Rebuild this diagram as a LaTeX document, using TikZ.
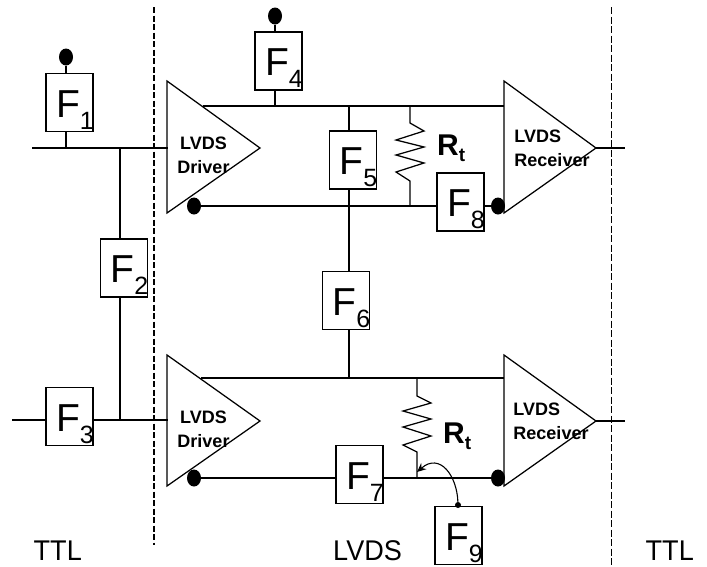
\documentclass[tikz,border=0pt]{standalone}
\usepackage{fontspec}
\setmainfont{Liberation Sans}
\usetikzlibrary{arrows.meta,shapes.geometric}

\newcommand{\fname}[1]{\makebox[0pt][l]{\hspace*{-13.5pt}\raisebox{-14.5pt}[0pt][0pt]{\fontsize{39}{39}\selectfont F\raisebox{-12pt}{\fontsize{25}{25}\selectfont #1}}}}
\newcommand{\rtname}{R\raisebox{-6pt}{\fontsize{19}{19}\selectfont t}}
\newcommand{\zonename}[1]{\scalebox{.95}[1]{#1}}

\tikzset{
    wire/.style={line width=1.25pt},
    fbox/.style={draw, line width=1.25pt, minimum width=47pt, minimum height=58pt, inner sep=0pt},
    blob/.style={ellipse, fill=black, minimum width=14pt, minimum height=17pt, inner sep=0pt},
    pindot/.style={circle, fill=black, minimum size=6pt, inner sep=0pt},
    amplabel/.style={font=\fontsize{18}{24}\selectfont\bfseries, inner sep=0pt},
    rlabel/.style={font=\fontsize{30}{30}\selectfont\bfseries, inner sep=0pt, anchor=base west},
    zonelabel/.style={font=\fontsize{28.5}{30}\selectfont, inner sep=0pt, anchor=base west},
}

\begin{document}
\begin{tikzpicture}[x=1pt, y=-1pt, line cap=butt, line join=miter]

    \useasboundingbox (0,0) rectangle (707,566);

    % Confini tra le zone
    \draw[line width=1.3pt, dash pattern=on 6pt off 2.5pt] (154,7) -- (154,545);
    \draw[line width=0.9pt, dash pattern=on 7pt off 2.5pt] (611,7) -- (611,565);

    % Amplificatori
    \draw[wire] (167,81) coordinate (drvA) -- (260,148) coordinate (drvAout) -- (167,213) -- cycle;
    \draw[wire] (167,355) coordinate (drvB) -- (260,421) coordinate (drvBout) -- (167,486) -- cycle;
    \draw[wire] (504,81) coordinate (rcvA) -- (596,148) coordinate (rcvAout) -- (504,213) -- cycle;
    \draw[wire] (504,355) coordinate (rcvB) -- (596,421) coordinate (rcvBout) -- (504,486) -- cycle;

    \node[amplabel, align=center] (drvAtext) at (203.5,155) {LVDS\\Driver};
    \node[amplabel, align=center] (drvBtext) at (203.5,429) {LVDS\\Driver};
    \node[amplabel, align=left] (rcvAtext) at (552,148) {LVDS\\Receiver};
    \node[amplabel, align=left] (rcvBtext) at (551,421) {LVDS\\Receiver};

    % Blocchi
    \node[fbox] (f1) at (69.5,102.5) {\fname{1}};
    \node[fbox] (f2) at (124,268) {\fname{2}};
    \node[fbox] (f3) at (69.5,416.5) {\fname{3}};
    \node[fbox] (f4) at (278.5,61) {\fname{4}};
    \node[fbox] (f5) at (353,160) {\fname{5}};
    \node[fbox] (f6) at (346,300.5) {\fname{6}};
    \node[fbox] (f7) at (359.5,474.5) {\fname{7}};
    \node[fbox] (f8) at (460.5,202) {\fname{8}};
    \node[fbox] (f9) at (458.5,535.5) {\fname{9}};

    % Punti neri
    \node[blob] (d1) at (66,57) {};
    \node[blob] (d4) at (275,16) {};
    \node[blob] (drvAdot) at (194,206) {};
    \node[blob] (drvBdot) at (194,478) {};
    \node[blob] (rcvAdot) at (498,206) {};
    \node[blob] (rcvBdot) at (498,478) {};
    \node[pindot] (f9dot) at (458,505) {};

    % Nodi di giunzione
    \coordinate (inA) at (32,148);
    \coordinate (inB) at (12,420);
    \coordinate (jA) at (120,148);
    \coordinate (jB) at (120,420);
    \coordinate (drvAin) at (168,148);
    \coordinate (drvBin) at (168,420);
    \coordinate (topA) at (203,106);
    \coordinate (topB) at (201,378);
    \coordinate (rtopA) at (504,106);
    \coordinate (rtopB) at (504,378);
    \coordinate (outA) at (625,148);
    \coordinate (outB) at (625,421);
    \coordinate (rtA) at (410,106);
    \coordinate (rbA) at (410,206);
    \coordinate (rtB) at (417,378);
    \coordinate (rbB) at (417,478);
    \coordinate (tipB) at (417,472);

    % Linee
    \draw[wire] (inA) -- (drvAin);
    \draw[wire] (inB) -- (f3.west |- inB);
    \draw[wire] (f3.east |- jB) -- (drvBin);
    \draw[wire] (d1) -- (d1 |- f1.north);
    \draw[wire] (d1 |- f1.south) -- (d1 |- inA);
    \draw[wire] (jA) -- (jA |- f2.north);
    \draw[wire] (jA |- f2.south) -- (jB);
    \draw[wire] (d4) -- (d4 |- f4.north);
    \draw[wire] (d4 |- f4.south) -- (d4 |- topA);
    \draw[wire] (topA) -- (rtopA);
    \draw[wire] (topB) -- (rtopB);
    \draw[wire] (349,106) -- (349,131);
    \draw[wire] (349,189) -- (349,272);
    \draw[wire] (349,329) -- (349,378);
    \draw[wire] (drvAdot) -- (f8.west |- drvAdot);
    \draw[wire] (f8.east |- rcvAdot) -- (rcvAdot);
    \draw[wire] (drvBdot) -- (f7.west |- drvBdot);
    \draw[wire] (f7.east |- rcvBdot) -- (rcvBdot);
    \draw[wire] (rcvAout) -- (outA);
    \draw[wire] (rcvBout) -- (outB);

    % Resistenze
    \draw[wire] (rtA) -- (410,123) -- (424,131) -- (396,140) -- (424,147) -- (396,155) -- (424,163) -- (396,172) -- (410,181) -- (rbA);
    \draw[wire] (rtB) -- (417,396) -- (431,403) -- (403,411) -- (431,419) -- (403,427) -- (431,436) -- (403,445) -- (417,452) -- (rbB);
    \node[rlabel] (rtAtext) at (437,155) {\rtname};
    \node[rlabel] (rtBtext) at (443,443) {\rtname};

    % Collegamento curvo di F9
    \draw[line width=1.1pt, -{Stealth[length=9pt, width=8pt]}] (f9dot) .. controls (457,476) and (440,452) .. (tipB);

    % Zone
    \node[zonelabel] (ttlL) at (33.5,560) {\zonename{TTL}};
    \node[zonelabel] (lvds) at (333,560) {\zonename{LVDS}};
    \node[zonelabel] (ttlR) at (645.5,560) {\zonename{TTL}};

\end{tikzpicture}
\end{document}
